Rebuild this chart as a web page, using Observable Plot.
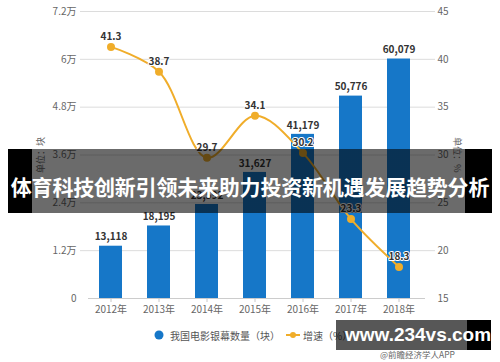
<!DOCTYPE html>
<html>
<head>
<meta charset="utf-8">
<script src="https://cdn.jsdelivr.net/npm/d3@7"></script>
<script src="https://cdn.jsdelivr.net/npm/@observablehq/plot@0.6"></script>
<style>
  html, body { margin: 0; padding: 0; background: #fff; }
  #wrap { position: relative; width: 500px; height: 362px; overflow: hidden; font-family: "Noto Sans CJK SC", "Noto Sans", sans-serif; }
  #chart svg { display: block; }
  .ylab { position: absolute; font-size: 9px; color: #666; white-space: nowrap; }
  #banner { position: absolute; left: 8px; top: 149px; width: 484px; height: 64px;
    background: linear-gradient(to right, #000 0, #000 24px, rgba(0,0,0,0.58) 24px, rgba(0,0,0,0.58) 457px, #000 457px);
    color: #fff; font-weight: bold; font-size: 21px; line-height: 64px; text-align: center; letter-spacing: -0.2px; white-space: nowrap; padding-top: 5px; box-sizing: border-box; }
  #legend { position: absolute; left: 0; top: 326px; width: 500px; height: 18px; font-size: 10px; color: #555; }
  #legend .item { position: absolute; top: 0; display: flex; align-items: center; height: 18px; }
  #wm { position: absolute; left: 336px; top: 320px; width: 155px; height: 30px;
    background: linear-gradient(to right, rgba(0,0,0,0.66) 0, rgba(0,0,0,0.66) 131px, #000 131px);
    color: #fff; font-family: "Liberation Sans", Arial, sans-serif; font-weight: bold; font-size: 19px; line-height: 30px; padding-left: 9px; box-sizing: border-box; white-space: nowrap; }
  #src { position: absolute; left: 380px; top: 348px; font-size: 8.5px; color: #666; white-space: nowrap; }
</style>
</head>
<body>
<div id="wrap">
  <div id="chart"></div>
  <div class="ylab" id="ylabL"></div>
  <div class="ylab" id="ylabR"></div>
  <div id="legend"></div>
  <div id="banner"></div>
  <div id="wm"></div>
  <div id="src"></div>
</div>
<script>
const years = ["2012年", "2013年", "2014年", "2015年", "2016年", "2017年", "2018年"];
const screens = [13118, 18195, 23592, 31627, 41179, 50776, 60079];
const growth = [41.3, 38.7, 29.7, 34.1, 30.2, 23.3, 18.3];
const leftTicks = [0, 12000, 24000, 36000, 48000, 60000, 72000];
const leftTickLabels = ["0", "1.2万", "2.4万", "3.6万", "4.8万", "6万", "7.2万"];
const rightTicks = [15, 20, 25, 30, 35, 40, 45];
const seriesNames = ["我国电影银幕数量（块）", "增速（%）"];
const leftUnit = "单位：块";
const rightUnit = "单位：%";
const titleText = "体育科技创新引领未来助力投资新机遇发展趋势分析";
const watermark = "www.234vs.com";
const sourceText = "@前瞻经济学人APP";

const blue = "#1677c8";
const orange = "#f0ad2a";

const yMax = 72000, gMin = 15, gMax = 45;
const g2y = g => (g - gMin) / (gMax - gMin) * yMax;

const data = years.map((year, i) => ({year, screens: screens[i], growth: growth[i]}));

const chart = Plot.plot({
  width: 500,
  height: 322,
  marginLeft: 87,
  marginRight: 77,
  marginTop: 11,
  marginBottom: 24,
  style: {fontFamily: "'Noto Sans CJK SC', 'Noto Sans', sans-serif", fontSize: "10px", background: "transparent"},
  x: {domain: years, paddingInner: 0.52, paddingOuter: 0.26, label: null, axis: null},
  y: {domain: [0, yMax], label: null, axis: null},
  marks: [
    Plot.gridY(leftTicks.slice(1), {stroke: "#dcdcdc", strokeOpacity: 1, insetLeft: -7, insetRight: -12}),
    Plot.axisY(leftTicks, {anchor: "left", tickSize: 0, tickPadding: 11, fill: "#666",
      tickFormat: d => leftTickLabels[leftTicks.indexOf(d)]}),
    Plot.axisY(rightTicks.map(g2y), {anchor: "right", tickSize: 0, tickPadding: 14, fill: "#666",
      tickFormat: d => String(rightTicks[rightTicks.map(g2y).indexOf(d)])}),
    Plot.ruleY([0], {stroke: "#cccccc", insetLeft: 1, insetRight: -2}),
    Plot.axisX(years, {tickSize: 4, tickPadding: 3, stroke: "#c8c8c8", fill: "#666"}),
    Plot.barY(data, {x: "year", y: "screens", fill: blue}),
    Plot.text(data, {x: "year", y: "screens", text: d => d3.format(",")(d.screens), dy: -9,
      fontWeight: "bold", fill: "#333", fontSize: 10}),
    Plot.line(data, {x: "year", y: d => g2y(d.growth), stroke: orange, strokeWidth: 2, curve: "catmull-rom"}),
    Plot.dot(data, {x: "year", y: d => g2y(d.growth), r: 4, fill: orange}),
    Plot.text(data, {x: "year", y: d => g2y(d.growth), text: d => d.growth.toFixed(1), dy: -10,
      fontWeight: "bold", fill: "#333", fontSize: 10, stroke: "white", strokeWidth: 2})
  ]
});
document.getElementById("chart").appendChild(chart);

// unit labels
const L = document.getElementById("ylabL");
L.textContent = leftUnit;
L.style.left = "40px"; L.style.top = "155px";
L.style.transform = "translate(-50%,-50%) rotate(-90deg)";
const R = document.getElementById("ylabR");
R.textContent = rightUnit;
R.style.left = "457px"; R.style.top = "155px";
R.style.transform = "translate(-50%,-50%) rotate(90deg)";

// legend
const legend = document.getElementById("legend");
legend.innerHTML =
  `<div class="item" style="left:153px"><svg width="12" height="12" style="margin-right:5px"><circle cx="6" cy="6" r="4.5" fill="${blue}"/></svg>${seriesNames[0]}</div>` +
  `<div class="item" style="left:286px"><svg width="15" height="12" style="margin-right:2px"><line x1="0" y1="6" x2="14" y2="6" stroke="${orange}" stroke-width="2"/><circle cx="7" cy="6" r="3" fill="${orange}"/></svg>${seriesNames[1]}</div>`;

document.getElementById("banner").textContent = titleText;
document.getElementById("wm").textContent = watermark;
document.getElementById("src").textContent = sourceText;
</script>
</body>
</html>
